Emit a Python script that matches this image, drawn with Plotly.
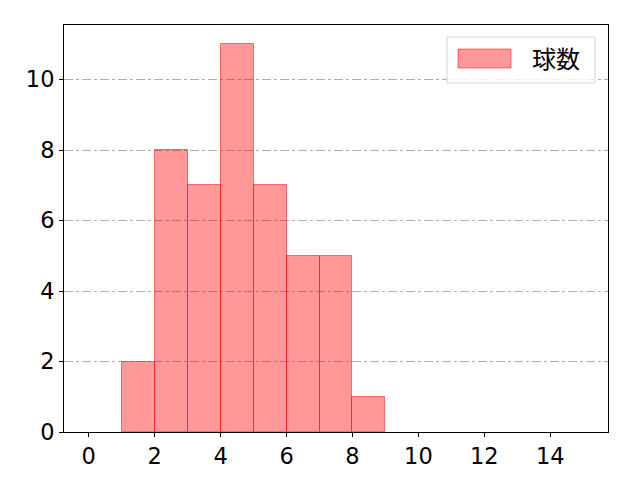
import plotly.graph_objects as go

bin_edges = [1, 2, 3, 4, 5, 6, 7, 8, 9]
counts = [2, 8, 7, 11, 7, 5, 5, 1]
series_name = "球数"
x_ticks = [0, 2, 4, 6, 8, 10, 12, 14]
y_ticks = [0, 2, 4, 6, 8, 10]

centers = [(a + b) / 2 for a, b in zip(bin_edges[:-1], bin_edges[1:])]
widths = [b - a for a, b in zip(bin_edges[:-1], bin_edges[1:])]

font = "Noto Sans CJK JP"
tickfont = dict(family="DejaVu Sans", size=22.5, color="black")
fig = go.Figure()
fig.add_trace(go.Bar(
    x=centers, y=counts, width=widths, name=series_name,
    marker=dict(color="rgba(255,0,0,0.4)", line=dict(color="rgba(255,0,0,0.5)", width=1)),
    showlegend=False,
))

fig.update_layout(
    width=640, height=480,
    margin=dict(l=64, r=32, t=25, b=48),
    paper_bgcolor="white", plot_bgcolor="white",
    font=dict(family=font, size=22, color="black"),
    bargap=0,
    xaxis=dict(range=[-0.75, 15.75], tickvals=x_ticks, ticks="outside", ticklen=4,
               tickcolor="black", showline=True, linecolor="black", linewidth=1,
               mirror=True, showgrid=False, zeroline=False, tickfont=tickfont),
    yaxis=dict(range=[0, 11.55], tickvals=y_ticks, ticks="outside", ticklen=4,
               tickcolor="black", showline=True, linecolor="black", linewidth=1,
               mirror=True, showgrid=True, gridcolor="#b0b0b0", griddash="dashdot",
               gridwidth=0.8, zeroline=False, tickfont=tickfont),
)

# custom legend box mimicking matplotlib
fig.add_shape(type="rect", xref="paper", yref="paper",
              x0=(447 - 64) / 544, x1=(595 - 64) / 544,
              y0=(432 - 83) / 407, y1=(432 - 37) / 407,
              line=dict(color="#d6d6d6", width=1), fillcolor="rgba(255,255,255,0.8)",
              layer="above")
fig.add_shape(type="rect", xref="paper", yref="paper",
              x0=(458 - 64) / 544, x1=(511 - 64) / 544,
              y0=(432 - 68) / 407, y1=(432 - 49) / 407,
              line=dict(color="rgba(255,0,0,0.5)", width=1), fillcolor="rgba(255,0,0,0.4)",
              layer="above")
fig.add_annotation(xref="paper", yref="paper", x=(530 - 64) / 544, y=(432 - 58) / 407,
                   text=series_name, showarrow=False, xanchor="left", yanchor="middle",
                   font=dict(family=font, size=24, color="black"))

fig.write_html("out.html", config={"displayModeBar": False},
               post_script="document.body.style.margin='0';")
